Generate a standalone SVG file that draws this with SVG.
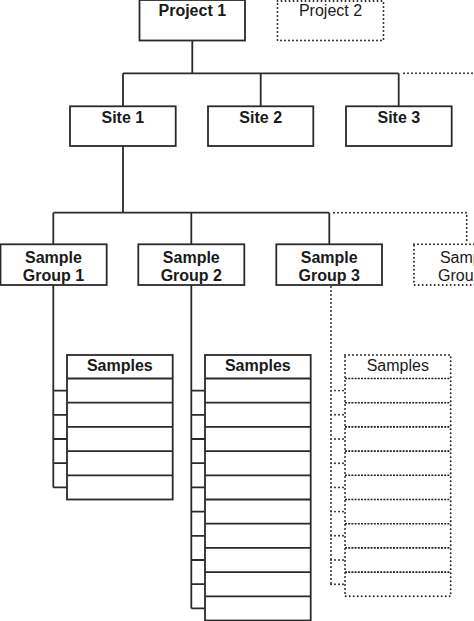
<svg xmlns="http://www.w3.org/2000/svg" width="474" height="621" viewBox="0 0 474 621">
<style>
.box{fill:#fff;stroke:#2a2a2a;stroke-width:1.8}
.dbox{fill:#fff;stroke:#222;stroke-width:1.9;stroke-dasharray:0 4;stroke-linecap:round}
.ln{fill:none;stroke:#2a2a2a;stroke-width:1.8}
.dln{fill:none;stroke:#222;stroke-width:1.9;stroke-dasharray:0 4;stroke-linecap:round}
.dash{fill:none;stroke:#222;stroke-width:1.6;stroke-dasharray:2 1.2}
.b{font-family:"Liberation Sans",Arial,sans-serif;font-size:16px;font-weight:bold;fill:#1a1a1a;text-anchor:middle}
.r{font-family:"Liberation Sans",Arial,sans-serif;font-size:16px;fill:#1a1a1a;text-anchor:middle}
</style>
<rect width="474" height="621" fill="#fff"/>
<g id="connectors">
<path class="ln" d="M192.3 40.5V73.3M123 73.3H398.7M123 73.3V106.3M260.7 73.3V106.3M398.7 73.3V106.3"/>
<path class="dln" d="M404 73.3H474"/>
<path class="ln" d="M123 146V212.7M53.3 212.7H329.3M53.3 212.7V244.3M191.3 212.7V244.3M329.3 212.7V244.3"/>
<path class="dln" d="M334 212.7H466.7V243"/>
<path class="ln" d="M53.3 285V487.4M53.3 390.6H67M53.3 414.8H67M53.3 439H67M53.3 463.2H67M53.3 487.4H67"/>
<path class="ln" d="M191.3 285V608.4M191.3 390.6H205M191.3 414.8H205M191.3 439H205M191.3 463.2H205M191.3 487.4H205M191.3 511.6H205M191.3 535.8H205M191.3 560H205M191.3 584.2H205M191.3 608.4H205"/>
<path class="dln" d="M331 287V584.2M331 390.6H345M331 414.8H345M331 439H345M331 463.2H345M331 487.4H345M331 511.6H345M331 535.8H345M331 560H345M331 584.2H345"/>
</g>
<g id="project1"><rect class="box" x="139.5" y="0" width="105.5" height="40.5"/><text class="b" x="192.3" y="16">Project 1</text></g>
<g id="project2"><rect class="dbox" x="277.5" y="1" width="106" height="39.5"/><text class="r" x="330.5" y="16">Project 2</text></g>
<g id="site1"><rect class="box" x="70" y="106.3" width="105.7" height="39.7"/><text class="b" x="122.8" y="122.5">Site 1</text></g>
<g id="site2"><rect class="box" x="208" y="106.3" width="105.3" height="39.7"/><text class="b" x="260.7" y="122.5">Site 2</text></g>
<g id="site3"><rect class="box" x="346" y="106.3" width="105.7" height="39.7"/><text class="b" x="398.8" y="122.5">Site 3</text></g>
<g id="sg1"><rect class="box" x="0.5" y="244.3" width="106.2" height="40.7"/><text class="b" x="53.5" y="262.5">Sample</text><text class="b" x="53.5" y="281">Group 1</text></g>
<g id="sg2"><rect class="box" x="138.3" y="244.3" width="106" height="40.7"/><text class="b" x="191.3" y="262.5">Sample</text><text class="b" x="191.3" y="281">Group 2</text></g>
<g id="sg3"><rect class="box" x="276.3" y="244.3" width="105.7" height="40.7"/><text class="b" x="329.2" y="262.5">Sample</text><text class="b" x="329.2" y="281">Group 3</text></g>
<g id="sg4"><rect class="dbox" x="414" y="244.3" width="106" height="40.7"/><text class="r" x="467" y="262.5">Sample</text><text class="r" x="467" y="281">Group 4</text></g>
<g id="samples1"><rect class="box" x="67" y="355" width="105.7" height="144.5"/><path class="ln" d="M67 378.5H172.7M67 402.7H172.7M67 426.9H172.7M67 451.1H172.7M67 475.3H172.7"/><text class="b" x="119.8" y="371">Samples</text></g>
<g id="samples2"><rect class="box" x="205" y="355" width="105.7" height="265.5"/><path class="ln" d="M205 378.5H310.7M205 402.7H310.7M205 426.9H310.7M205 451.1H310.7M205 475.3H310.7M205 499.5H310.7M205 523.7H310.7M205 547.9H310.7M205 572.1H310.7M205 596.3H310.7"/><text class="b" x="257.8" y="371">Samples</text></g>
<g id="samples3"><rect class="dbox" x="345" y="355" width="105.7" height="241.3"/><path class="dash" d="M345 378.5H450.7M345 402.7H450.7M345 426.9H450.7M345 451.1H450.7M345 475.3H450.7M345 499.5H450.7M345 523.7H450.7M345 547.9H450.7M345 572.1H450.7"/><text class="r" x="397.8" y="371">Samples</text></g>
</svg>
